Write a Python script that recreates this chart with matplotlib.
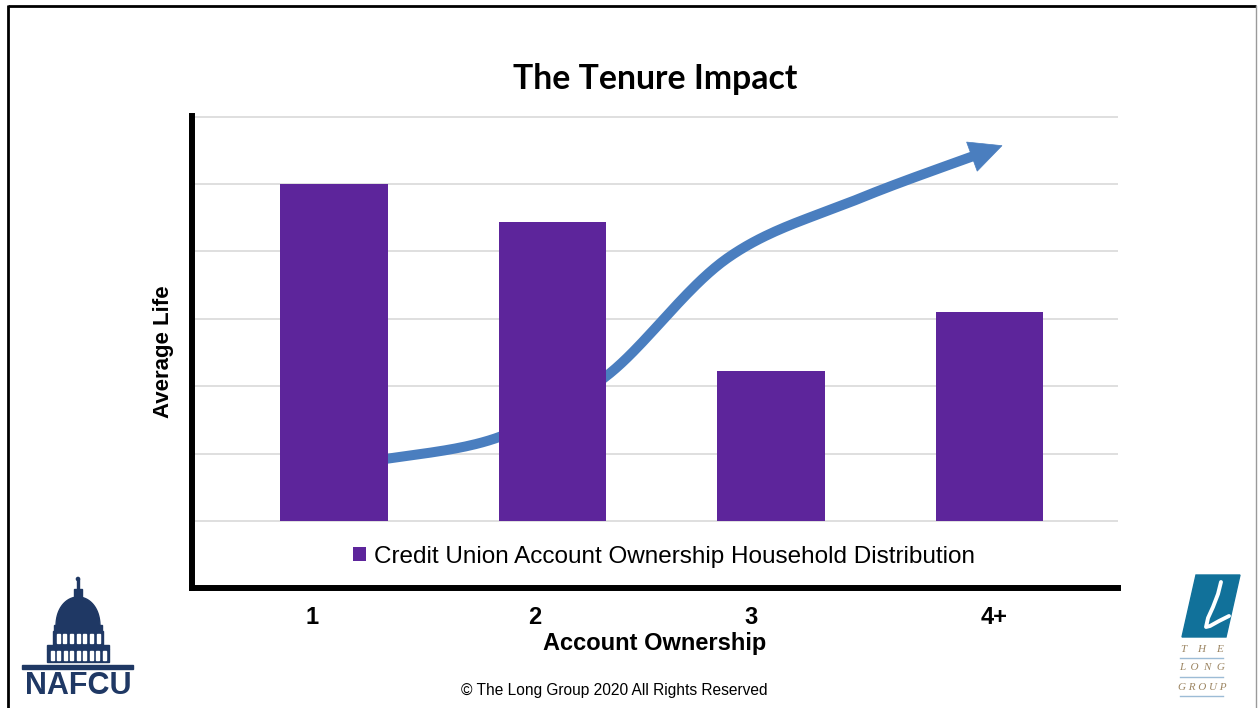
import numpy as np
import matplotlib
matplotlib.use("Agg")
import matplotlib.pyplot as plt
from matplotlib.patches import Polygon, Rectangle, Patch, Circle

# ---------------- data ----------------
categories = ["1", "2", "3", "4+"]
household_distribution = [5.0, 4.43, 2.22, 3.10]
y_gridlines = [0, 1, 2, 3, 4, 5, 6]
series_label = "Credit Union Account Ownership Household Distribution"
chart_title = "The Tenure Impact"
x_axis_title = "Account Ownership"
y_axis_title = "Average Life"
footer_text = "\u00a9 The Long Group 2020 All Rights Reserved"

# ---------------- style ----------------
BAR_COLOR = "#5D259B"
ARROW_COLOR = "#4A7EBF"
GRID_COLOR = "#D9D9D9"
NAVY = "#1F3864"
TEAL = "#11719A"
TAN = "#9C8562"
RULE_BLUE = "#9DBCD6"
SANS = ["Liberation Sans", "DejaVu Sans"]
TITLE_FONT = ["Lato", "DejaVu Sans"]

# guide points of the decorative trend arrow (category units, axis units)
arrow_guide_x = [0.119, 0.75, 1.25, 1.80, 2.40, 3.057]
arrow_guide_y = [0.86, 1.24, 2.16, 3.90, 4.78, 5.57]

# small horizontal nudges of the category labels (category units)
label_shift = [-0.10, -0.08, -0.09, 0.02]

W, H = 1260, 708
fig = plt.figure(figsize=(W / 100, H / 100), dpi=100)
fig.patch.set_facecolor("white")

# main plot box in pixels
L, R, T, B = 192, 1118, 116, 588
ax = fig.add_axes([L / W, 1 - B / H, (R - L) / W, (B - T) / H])
ax.set_xlim(-0.65, 3.588)
ax.set_ylim(-0.993, 6.01)

x = np.arange(len(categories))
ax.bar(x, household_distribution, width=0.494, color=BAR_COLOR, zorder=3)

ax.set_yticks(y_gridlines)
ax.yaxis.grid(True, color=GRID_COLOR, lw=1.2)
ax.set_axisbelow(True)
ax.tick_params(axis="y", length=0, labelleft=False)
ax.set_xticks(x + np.array(label_shift), categories)
ax.tick_params(axis="x", length=0, pad=13)
for lab in ax.get_xticklabels():
    lab.set_fontsize(17)
    lab.set_fontweight("bold")
    lab.set_family(SANS)

for s in ("top", "right"):
    ax.spines[s].set_visible(False)
for s in ("left", "bottom"):
    ax.spines[s].set_linewidth(4.3)
    ax.spines[s].set_color("black")

ax.set_xlabel(x_axis_title, fontsize=17, fontweight="bold", family=SANS, labelpad=2)
ax.set_ylabel(y_axis_title, fontsize=16, fontweight="bold", family=SANS, labelpad=13)

ax.legend(handles=[Patch(facecolor=BAR_COLOR)], labels=[series_label],
          loc="center", bbox_to_anchor=(0.51, 0.066), frameon=False,
          prop={"family": SANS, "size": 17.5},
          handlelength=0.52, handleheight=0.52, handletextpad=0.35)


# ---------------- trend arrow ----------------
def catmull_rom(xs, ys, n=40):
    pts = np.column_stack([xs, ys])
    pts = np.vstack([2 * pts[0] - pts[1], pts, 2 * pts[-1] - pts[-2]])
    out = []
    for i in range(1, len(pts) - 2):
        p0, p1, p2, p3 = pts[i - 1], pts[i], pts[i + 1], pts[i + 2]
        t = np.linspace(0, 1, n, endpoint=False)[:, None]
        seg = 0.5 * (2 * p1 + (-p0 + p2) * t
                     + (2 * p0 - 5 * p1 + 4 * p2 - p3) * t ** 2
                     + (-p0 + 3 * p1 - 3 * p2 + p3) * t ** 3)
        out.append(seg)
    out.append(pts[-2][None, :])
    return np.vstack(out)


curve = catmull_rom(arrow_guide_x, arrow_guide_y)
disp = ax.transData.transform(curve)
tip = disp[-1]
head_len, head_half = 32.0, 15.5
far = disp[np.linalg.norm(disp - tip, axis=1) > head_len]
u = tip - far[-1]
u /= np.linalg.norm(u)
perp = np.array([-u[1], u[0]])
base = tip - head_len * u
shaft = np.vstack([far, base + 2 * u])
head = np.vstack([tip, base + head_half * perp, base - head_half * perp])
inv = ax.transData.inverted()
shaft_d = inv.transform(shaft)
head_d = inv.transform(head)
ax.plot(shaft_d[:, 0], shaft_d[:, 1], color=ARROW_COLOR, lw=7.2,
        solid_capstyle="butt", solid_joinstyle="round", zorder=2)
ax.add_patch(Polygon(head_d, closed=True, facecolor=ARROW_COLOR,
                     edgecolor=ARROW_COLOR, lw=0.5, zorder=2))

# ---------------- page overlay (pixel coordinates) ----------------
ov = fig.add_axes([0, 0, 1, 1], zorder=5)
ov.set_xlim(0, W)
ov.set_ylim(H, 0)
ov.axis("off")
ov.patch.set_alpha(0)

# slide frame
ov.plot([8, 1256], [6, 6], color="black", lw=2.0, solid_capstyle="butt")
ov.plot([8, 8], [5, H], color="black", lw=2.0, solid_capstyle="butt")
ov.plot([1256, 1256], [6, H], color="#9A9A9A", lw=1.0)

ov.text(655, 79, chart_title, ha="center", va="center", fontsize=24.3,
        fontweight="bold", family=TITLE_FONT, color="black")
ov.text(614, 691, footer_text, ha="center", va="center", fontsize=11.2,
        family=SANS, color="black")

# NAFCU capitol mark
ov.add_patch(Rectangle((77, 579), 2, 12, color=NAVY))
ov.add_patch(Circle((78, 579), 1.6, color=NAVY))
ov.add_patch(Rectangle((74, 589), 8, 9, color=NAVY))
t = np.linspace(0, np.pi, 60)
dome = np.column_stack([78 + 22 * np.cos(t), 627 - 30 * np.sin(t) ** 0.9])
ov.add_patch(Polygon(dome, closed=True, color=NAVY))
ov.add_patch(Rectangle((54, 625), 48, 6, color=NAVY))
ov.add_patch(Rectangle((53, 631), 50, 14, color=NAVY))
for cx in np.linspace(58, 98, 7):
    ov.add_patch(Rectangle((cx - 1.5, 634), 3, 9, color="white"))
ov.add_patch(Rectangle((47, 645), 62, 4, color=NAVY))
ov.add_patch(Rectangle((47, 649), 62, 13, color=NAVY))
for cx in np.linspace(52, 104, 9):
    ov.add_patch(Rectangle((cx - 1.5, 651), 3, 9, color="white"))
ov.add_patch(Rectangle((22, 665), 111, 4, color=NAVY))
ov.text(78, 686, "NAFCU", ha="center", va="center", fontsize=22,
        fontweight="bold", family=SANS, color=NAVY)

# The Long Group mark
ov.add_patch(Polygon([(1196, 575), (1240, 575), (1226, 637), (1182, 637)],
                     closed=True, color=TEAL))
lx = [1221, 1218, 1213, 1208, 1206, 1210, 1219, 1229]
ly = [582, 594, 607, 618, 627, 626, 621, 616]
ov.plot(lx, ly, color="white", lw=2.8, solid_capstyle="round", solid_joinstyle="round")
for yy, word in [(649, "T    H    E"), (668, "L  O  N  G"), (687, "G R O U P")]:
    ov.text(1202, yy, word, ha="center", va="center", fontsize=8,
            style="italic", family=["Liberation Serif", "DejaVu Serif"], color=TAN)
for yy in (658, 677, 696):
    ov.plot([1180, 1223], [yy, yy], color=RULE_BLUE, lw=1.0)

fig.savefig("out.png", dpi=100, facecolor="white")
